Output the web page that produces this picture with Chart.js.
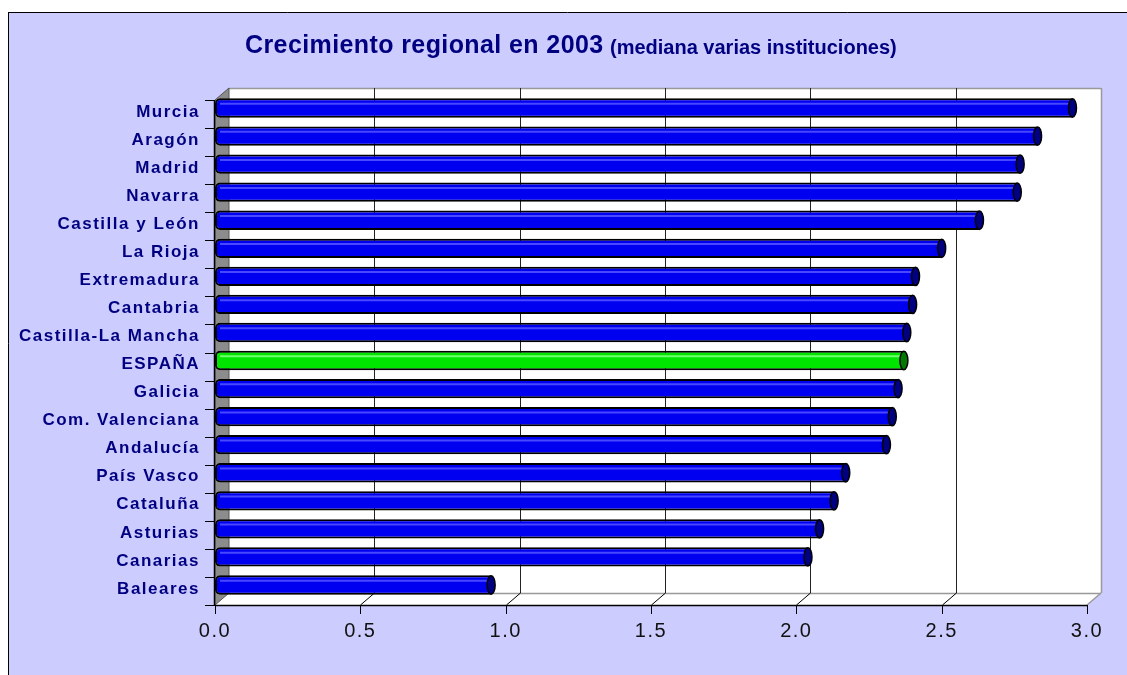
<!DOCTYPE html>
<html>
<head>
<meta charset="utf-8">
<script src="https://cdn.jsdelivr.net/npm/chart.js@4/dist/chart.umd.min.js"></script>
<style>
  html, body { margin: 0; padding: 0; background: #fff; overflow: hidden; }
</style>
</head>
<body>
<canvas id="myChart" width="1127" height="675"></canvas>
<script>
// datos
const regiones = ["Murcia", "Aragón", "Madrid", "Navarra", "Castilla y León", "La Rioja",
  "Extremadura", "Cantabria", "Castilla-La Mancha", "ESPAÑA", "Galicia", "Com. Valenciana",
  "Andalucía", "País Vasco", "Cataluña", "Asturias", "Canarias", "Baleares"];
const crecimiento = [2.95, 2.83, 2.77, 2.76, 2.63, 2.50, 2.41, 2.40, 2.38, 2.37, 2.35, 2.33,
  2.31, 2.17, 2.13, 2.08, 2.04, 0.95];
const destacado = "ESPAÑA";
const xTicks = [0, 0.5, 1, 1.5, 2, 2.5, 3];

const FONT = "'Liberation Sans', Arial, sans-serif";
const DX = 14, DY = -12; // profundidad del efecto 3D

const colorBarra = regiones.map((r) => (r === destacado ? "#00e600" : "#0000f0"));
const colorBrillo = regiones.map((r) => (r === destacado ? "#70ff70" : "#4848ff"));
const colorTapa = regiones.map((r) => (r === destacado ? "#007a00" : "#000080"));

const line = (ctx, x1, y1, x2, y2, color, w) => {
  ctx.beginPath();
  ctx.moveTo(x1, y1);
  ctx.lineTo(x2, y2);
  ctx.strokeStyle = color;
  ctx.lineWidth = w || 1;
  ctx.stroke();
};

/* fondo, paredes y ejes en 3D */
const efecto3d = {
  id: "efecto3d",
  beforeDraw(chart) {
    const ctx = chart.ctx;
    const area = chart.chartArea;
    const x = chart.scales.x;
    ctx.save();
    ctx.fillStyle = "#fff";
    ctx.fillRect(0, 0, chart.width, chart.height);
    ctx.fillStyle = "#ccccff";
    ctx.fillRect(8, 12, chart.width, chart.height);
    line(ctx, 8.5, 12, 8.5, chart.height, "#000");
    line(ctx, 8, 12.5, chart.width, 12.5, "#000");

    const x0 = x.getPixelForValue(xTicks[0]);
    const x3 = x.getPixelForValue(xTicks[xTicks.length - 1]);
    const fT = area.top + 6, fB = area.bottom + 6;
    const bT = fT + DY, bB = fB + DY;

    // pared del fondo
    ctx.fillStyle = "#fff";
    ctx.fillRect(x0 + DX, bT, x3 - x0, bB - bT);
    // suelo
    ctx.beginPath();
    ctx.moveTo(x0, fB); ctx.lineTo(x3, fB); ctx.lineTo(x3 + DX, bB); ctx.lineTo(x0 + DX, bB);
    ctx.closePath();
    ctx.fill();
    line(ctx, x0 + DX, bT + 0.5, x3 + DX, bT + 0.5, "#999", 1.5);
    line(ctx, x3 + DX + 0.5, bT, x3 + DX + 0.5, bB, "#999", 1.5);
    line(ctx, x0 + DX, bB + 0.5, x3 + DX, bB + 0.5, "#999", 1.5);
    line(ctx, x3, fB, x3 + DX, bB, "#999", 1.5);

    // rejilla
    xTicks.forEach((v) => {
      const px = Math.round(x.getPixelForValue(v)) + 0.5;
      if (v > xTicks[0] && v < xTicks[xTicks.length - 1]) {
        line(ctx, px + DX, bT, px + DX, bB, "#222");
        line(ctx, px, fB, px + DX, bB, "#000");
      }
      line(ctx, px, fB, px, fB + 9, "#000");
    });

    // pared izquierda
    ctx.beginPath();
    ctx.moveTo(x0, fT); ctx.lineTo(x0 + DX, bT); ctx.lineTo(x0 + DX, bB); ctx.lineTo(x0, fB);
    ctx.closePath();
    ctx.fillStyle = "#8c8c8c";
    ctx.fill();
    ctx.strokeStyle = "#555";
    ctx.lineWidth = 1;
    ctx.stroke();

    // ejes frontales
    line(ctx, x0, fB + 0.5, x3, fB + 0.5, "#000", 1.5);
    line(ctx, x0 - 0.5, fT, x0 - 0.5, fB, "#000", 1.5);
    const n = regiones.length;
    for (let k = 0; k <= n; k++) {
      const py = Math.round(fT + (k * (fB - fT)) / n) + 0.5;
      line(ctx, x0 - 10, py, x0, py, "#000");
    }
    ctx.restore();
    ctx.letterSpacing = "1.5px";
  },
  afterDatasetsDraw(chart) {
    const ctx = chart.ctx;
    ctx.letterSpacing = "0px";
    const meta = chart.getDatasetMeta(0);
    ctx.save();
    meta.data.forEach((bar, i) => {
      const h = bar.height;
      const yb = bar.y - h * 0.22;
      line(ctx, bar.base + 5, yb, bar.x - 3, yb, colorBrillo[i], 2);
      ctx.beginPath();
      ctx.ellipse(bar.x, bar.y, 4, h / 2 - 0.5, 0, 0, Math.PI * 2);
      ctx.fillStyle = colorTapa[i];
      ctx.fill();
      ctx.strokeStyle = "#000";
      ctx.lineWidth = 1.5;
      ctx.stroke();
    });
    ctx.restore();
  },
  afterDraw(chart) {
    const ctx = chart.ctx;
    ctx.save();
    ctx.fillStyle = "#000080";
    ctx.textBaseline = "alphabetic";
    ctx.textAlign = "left";
    ctx.letterSpacing = "0.4px";
    ctx.font = "bold 25px " + FONT;
    ctx.fillText("Crecimiento regional en 2003", 245, 53);
    ctx.letterSpacing = "0px";
    ctx.font = "bold 20px " + FONT;
    ctx.fillText("(mediana varias instituciones)", 610, 54);
    ctx.restore();
  },
};

const data = {
  labels: regiones,
  datasets: [
    {
      label: "Crecimiento",
      data: crecimiento,
      backgroundColor: colorBarra,
      borderColor: "#000",
      borderWidth: 2,
      borderSkipped: false,
      borderRadius: { topLeft: 5, bottomLeft: 5, topRight: 0, bottomRight: 0 },
      barPercentage: 0.69,
      categoryPercentage: 1,
    },
  ],
};

const config = {
  type: "bar",
  data: data,
  plugins: [efecto3d],
  options: {
    indexAxis: "y",
    responsive: false,
    animation: false,
    layout: { padding: { top: 94, right: 40, left: 0, bottom: 0 } },
    plugins: {
      legend: { display: false },
      tooltip: { enabled: false },
      title: { display: false },
    },
    scales: {
      x: {
        min: 0,
        max: 3,
        z: 1,
        grid: { display: false, drawTicks: false },
        border: { display: false },
        ticks: {
          stepSize: 0.5,
          padding: 20,
          color: "#111",
          font: { family: FONT, size: 20 },
          callback: (v) => v.toFixed(1),
        },
        afterFit: (scale) => { scale.height = 76; },
      },
      y: {
        grid: { display: false, drawTicks: false },
        border: { display: false },
        ticks: {
          padding: 15,
          labelOffset: 4,
          color: "#000080",
          font: { family: FONT, size: 17, weight: "bold" },
        },
        afterFit: (scale) => { scale.width = 215; },
      },
    },
  },
};

const chart = new Chart(document.getElementById("myChart").getContext("2d"), config);
</script>
</body>
</html>
